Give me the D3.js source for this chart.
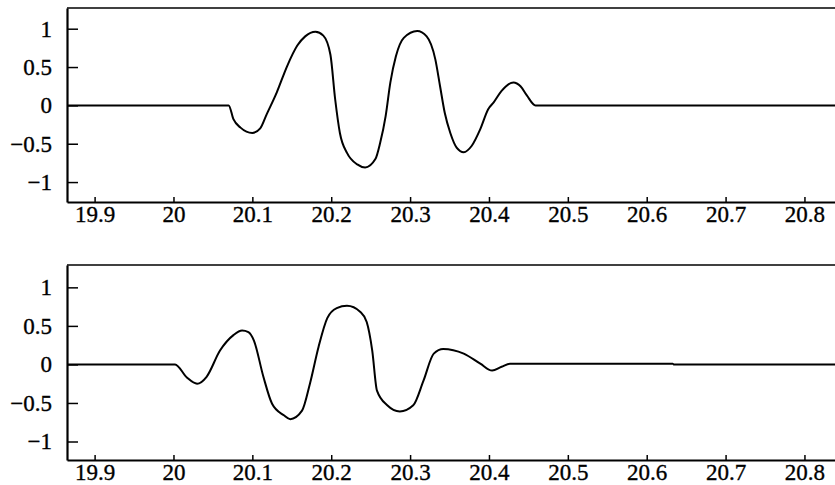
<!DOCTYPE html>
<html><head><meta charset="utf-8">
<script src="https://cdn.jsdelivr.net/npm/d3@7"></script>
<style>body{margin:0;background:#fff}svg{display:block}</style>
</head><body>
<svg id="c" width="835" height="485"></svg>
<script>
// ---- data ----
const xTicks = [19.9, 20, 20.1, 20.2, 20.3, 20.4, 20.5, 20.6, 20.7, 20.8];
const yTicks = [-1, -0.5, 0, 0.5, 1];
const topX = [19.865, 20.070, 20.076, 20.085, 20.100, 20.110, 20.118, 20.131, 20.144, 20.157, 20.167, 20.180, 20.190, 20.199, 20.205, 20.211, 20.220, 20.233, 20.243, 20.256, 20.262, 20.269, 20.275, 20.282, 20.292, 20.309, 20.321, 20.332, 20.338, 20.344, 20.351, 20.359, 20.368, 20.378, 20.389, 20.399, 20.406, 20.416, 20.431, 20.440, 20.448, 20.459, 20.84];
const topY = [0, 0, -0.18, -0.29, -0.36, -0.30, -0.12, 0.17, 0.51, 0.78, 0.90, 0.96, 0.91, 0.66, 0.08, -0.36, -0.62, -0.77, -0.81, -0.70, -0.49, -0.14, 0.30, 0.64, 0.88, 0.97, 0.90, 0.60, 0.25, -0.10, -0.36, -0.55, -0.61, -0.53, -0.31, -0.05, 0.04, 0.19, 0.30, 0.25, 0.13, 0, 0];
const botX = [19.865, 20.002, 20.017, 20.030, 20.042, 20.059, 20.076, 20.087, 20.095, 20.102, 20.114, 20.125, 20.140, 20.148, 20.163, 20.173, 20.184, 20.195, 20.207, 20.220, 20.237, 20.245, 20.252, 20.258, 20.271, 20.287, 20.304, 20.317, 20.330, 20.342, 20.368, 20.389, 20.404, 20.416, 20.427, 20.435, 20.633, 20.634, 20.84];
const botY = [0, 0, -0.17, -0.25, -0.16, 0.18, 0.38, 0.44, 0.42, 0.31, -0.16, -0.51, -0.66, -0.71, -0.60, -0.25, 0.23, 0.60, 0.73, 0.76, 0.68, 0.55, 0.18, -0.34, -0.53, -0.61, -0.53, -0.21, 0.14, 0.20, 0.14, 0.01, -0.08, -0.03, 0.01, 0.01, 0.01, 0, 0];

const svg = d3.select("#c");
const FONT = '"Liberation Serif", "DejaVu Serif", serif';

function styleText(sel) {
  sel.attr("font-family", null).attr("font-size", null)
    .style("font-family", FONT).style("font-size", "23px")
    .style("fill", "#000").style("stroke", "#000").style("stroke-width", "0.35px");
}

function panel(top, bottom, yDom, xs, ys) {
  const x = d3.scaleLinear().domain([19.865, 20.84]).range([67, 836]);
  const y = d3.scaleLinear().domain(yDom).range([bottom, top]);
  const g = svg.append("g");
  g.append("line").attr("x1", 67).attr("x2", 836).attr("y1", top).attr("y2", top)
    .attr("stroke", "#000").attr("stroke-width", 1.6);
  const xa = g.append("g").attr("transform", `translate(0,${bottom})`)
    .call(d3.axisBottom(x).tickValues(xTicks).tickSizeInner(-5).tickSizeOuter(0).tickPadding(4).tickFormat(d3.format("")));
  xa.attr("font-family", null).attr("font-size", null);
  xa.select(".domain").attr("stroke-width", 2.2);
  xa.selectAll(".tick line").attr("stroke-width", 1.5);
  styleText(xa.selectAll("text"));
  const ya = g.append("g").attr("transform", `translate(67,0)`)
    .call(d3.axisLeft(y).tickValues(yTicks).tickSizeInner(-11).tickSizeOuter(0).tickPadding(15).tickFormat(d3.format("")));
  ya.attr("font-family", null).attr("font-size", null);
  ya.select(".domain").attr("stroke-width", 2.2);
  ya.selectAll(".tick line").attr("stroke-width", 1.5);
  styleText(ya.selectAll("text"));
  const line = d3.line().x((d, i) => x(xs[i])).y((d, i) => y(ys[i])).curve(d3.curveMonotoneX);
  g.append("path").datum(xs).attr("d", line).attr("fill", "none")
    .attr("stroke", "#000").attr("stroke-width", 2);
}

panel(8, 202, [-1.26, 1.27], topX, topY);
panel(265, 460, [-1.24, 1.29], botX, botY);
</script>
</body></html>
